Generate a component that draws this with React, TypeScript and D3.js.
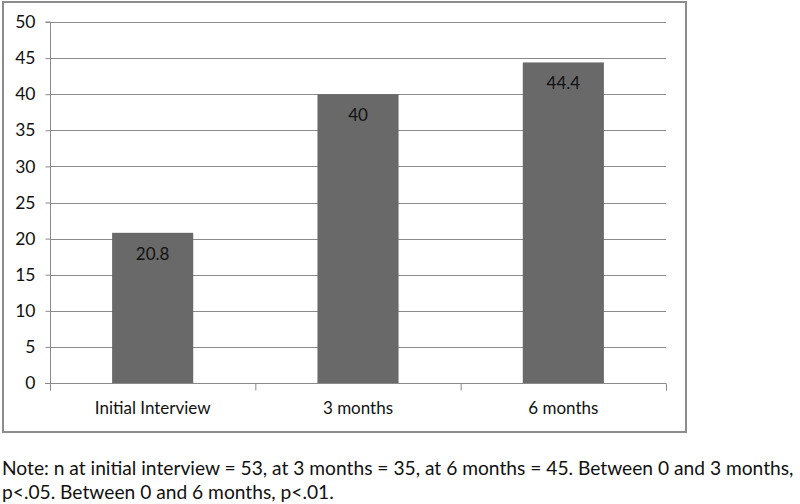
import React, { useEffect, useRef } from "react";
import * as d3 from "d3";

// data
const categories = ["Initial Interview", "3 months", "6 months"];
const values = [20.8, 40, 44.4];
const yTicks = [0, 5, 10, 15, 20, 25, 30, 35, 40, 45, 50];
const noteLines = [
  "Note: n at initial interview = 53, at 3 months = 35, at 6 months = 45. Between 0 and 3 months,",
  "p<.05. Between 0 and 6 months, p<.01.",
];

export default function App() {
  const ref = useRef<SVGSVGElement>(null);

  useEffect(() => {
    const svg = d3.select(ref.current);
    svg.selectAll("*").remove();

    const font = "Lato, 'Open Sans', sans-serif";
    const left = 50,
      right = 666,
      top = 22,
      bottom = 383;

    // chart frame
    svg
      .append("rect")
      .attr("x", 3)
      .attr("y", 2)
      .attr("width", 683)
      .attr("height", 430)
      .attr("fill", "#fff")
      .attr("stroke", "#8c8c8c")
      .attr("stroke-width", 2);

    var x = d3.scaleBand().domain(categories).range([left, right]).paddingInner(0.605).paddingOuter(0.3025);
    var y = d3.scaleLinear().domain([0, 50]).range([bottom, top]);

    // gridlines
    svg
      .append("g")
      .selectAll("line")
      .data(yTicks.filter((d) => d > 0))
      .enter()
      .append("line")
      .attr("x1", left)
      .attr("x2", right)
      .attr("y1", (d) => Math.round(y(d)) + 0.5)
      .attr("y2", (d) => Math.round(y(d)) + 0.5)
      .attr("stroke", "#8a8a8a")
      .attr("stroke-width", 1);

    // bars
    svg
      .append("g")
      .selectAll("rect")
      .data(values)
      .enter()
      .append("rect")
      .attr("x", (d, i) => x(categories[i])!)
      .attr("y", (d) => y(d))
      .attr("width", x.bandwidth())
      .attr("height", (d) => bottom - y(d))
      .attr("fill", "#696969");

    // value labels inside bars
    svg
      .append("g")
      .selectAll("text")
      .data(values)
      .enter()
      .append("text")
      .attr("x", (d, i) => x(categories[i])! + x.bandwidth() / 2)
      .attr("y", (d) => y(d) + 27)
      .attr("text-anchor", "middle")
      .attr("font-family", font)
      .attr("font-size", 17)
      .attr("fill", "#111")
      .text((d) => String(d));

    // y axis
    var yAxis = d3.axisLeft(y).tickValues(yTicks).tickSize(5).tickPadding(10);
    var yg = svg.append("g").attr("transform", `translate(${left + 0.5},0)`).call(yAxis);
    yg.selectAll("line, path").attr("stroke", "#8a8a8a");
    yg.select(".domain").attr("d", `M-5,${top}H0V${bottom}`);
    yg.selectAll(".tick text")
      .attr("font-family", font)
      .attr("font-size", 17.5)
      .attr("fill", "#111");

    // x axis
    var xg = svg.append("g").attr("transform", `translate(0,${bottom + 0.5})`);
    xg.append("line")
      .attr("x1", left - 5)
      .attr("x2", right)
      .attr("stroke", "#8a8a8a");
    var bandStep = x.step();
    xg.selectAll("line.tk")
      .data(d3.range(categories.length + 1))
      .enter()
      .append("line")
      .attr("class", "tk")
      .attr("x1", (i) => left + 0.5 + i * bandStep)
      .attr("x2", (i) => left + 0.5 + i * bandStep)
      .attr("y1", 0)
      .attr("y2", 7)
      .attr("stroke", "#8a8a8a");
    xg.selectAll("text")
      .data(categories)
      .enter()
      .append("text")
      .attr("x", (d) => x(d)! + x.bandwidth() / 2)
      .attr("y", 30)
      .attr("text-anchor", "middle")
      .attr("font-family", font)
      .attr("font-size", 17)
      .attr("fill", "#111")
      .text((d) => d);

    // note under the chart
    svg
      .append("g")
      .selectAll("text")
      .data(noteLines)
      .enter()
      .append("text")
      .attr("x", 2)
      .attr("y", (d, i) => 475 + i * 24)
      .attr("font-family", font)
      .attr("font-size", 19.2)
      .attr("fill", "#111")
      .text((d) => d);
  }, []);

  return (
    <svg
      ref={ref}
      width={800}
      height={504}
      style={{ position: "absolute", left: 0, top: 0, background: "#fff" }}
    />
  );
}
